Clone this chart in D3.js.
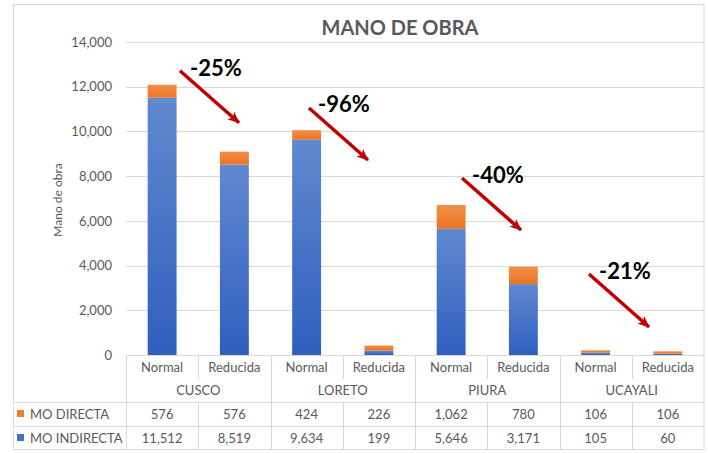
<!DOCTYPE html>
<html><head><meta charset="utf-8">
<script src="https://cdn.jsdelivr.net/npm/d3@7"></script>
<style>body{margin:0;background:#fff}text{font-family:Lato,"Open Sans",sans-serif}</style>
</head><body><svg id="c" width="708" height="453"></svg>
<script>
const regions = ["CUSCO","LORETO","PIURA","UCAYALI"];
const scenarios = ["Normal","Reducida"];
const moDirecta = [576,576,424,226,1062,780,106,106];
const moIndirecta = [11512,8519,9634,199,5646,3171,105,60];
const yTicks = [0,2000,4000,6000,8000,10000,12000,14000];
const changes = ["-25%","-96%","-40%","-21%"];
// annotation anchors in data space (slot index, value)
const arrowFrom = [[0.747,12716],[2.533,11048],[4.650,7917],[6.408,3623]];
const arrowTo   = [[1.564,10390],[3.349,8722],[5.467,5591],[7.239,1252]];
const labelAt   = [[0.886,12479],[2.657,10869],[4.789,7693],[6.547,3399]];

const svg = d3.select("#c");
const L=126, R=704, T=42, B=355;
const grey="#595959", line="#d9d9d9";
const cats = [];
regions.forEach(r=>scenarios.forEach(s=>cats.push(r+"|"+s)));
const x = d3.scaleBand().domain(cats).range([L,R]).paddingInner(0.6).paddingOuter(0.3);
const xs = d3.scaleLinear().domain([0,cats.length]).range([L,R]);
const y = d3.scaleLinear().domain([0,14000]).range([B,T]);

const defs = svg.append("defs");
function grad(id,c1,c2){const g=defs.append("linearGradient").attr("id",id).attr("x1",0).attr("y1",0).attr("x2",0).attr("y2",1);
 g.append("stop").attr("offset","0%").attr("stop-color",c1);g.append("stop").attr("offset","100%").attr("stop-color",c2);}
grad("gb","#6189d0","#2f5fbe");
grad("go","#f39049","#ea7424");
defs.append("marker").attr("id","ah").attr("viewBox","0 0 12 10").attr("refX",11).attr("refY",5)
 .attr("markerWidth",12).attr("markerHeight",10).attr("markerUnits","userSpaceOnUse").attr("orient","auto")
 .append("path").attr("d","M0,0 L12,5 L0,10 L3,5 Z").attr("fill","#c00000");

// outer border
svg.append("rect").attr("x",13.5).attr("y",4.5).attr("width",690.5).attr("height",445).attr("fill","#fff").attr("stroke",line);

// gridlines
svg.append("g").selectAll("line").data(yTicks.filter(d=>d>0)).join("line")
 .attr("x1",L).attr("x2",R).attr("y1",d=>Math.round(y(d))+0.5).attr("y2",d=>Math.round(y(d))+0.5).attr("stroke",line);
// y labels
const yAxis = svg.append("g").attr("transform",`translate(${L-14},0)`)
 .call(d3.axisLeft(y).tickValues(yTicks).tickFormat(d3.format(",")).tickSize(0).tickPadding(0));
yAxis.select(".domain").remove();
yAxis.selectAll("text").attr("font-size",13).attr("fill",grey).attr("font-family","Lato");

svg.append("text").attr("transform","translate(62,200) rotate(-90)").attr("text-anchor","middle")
 .attr("font-size",12).attr("fill",grey).text("Mano de obra");

// title
const title = svg.append("text").attr("x",400).attr("y",35).attr("text-anchor","middle").attr("font-size",20)
 .attr("font-weight","bold").attr("fill",grey).text("MANO DE OBRA");

// bars
const bars = svg.append("g");
bars.selectAll("rect.ind").data(moIndirecta).join("rect").attr("class","ind")
 .attr("x",(d,i)=>x(cats[i])).attr("width",x.bandwidth())
 .attr("y",d=>y(d)).attr("height",d=>y(0)-y(d)).attr("fill","url(#gb)");
bars.selectAll("rect.dir").data(moDirecta).join("rect").attr("class","dir")
 .attr("x",(d,i)=>x(cats[i])).attr("width",x.bandwidth())
 .attr("y",(d,i)=>y(d+moIndirecta[i])).attr("height",(d,i)=>y(moIndirecta[i])-y(d+moIndirecta[i])).attr("fill","url(#go)");

// table
const rowSub=367, rowGrp=390, rowD=414, rowI=438;
const tb = svg.append("g").attr("stroke",line);
[B,402,426,449].forEach(yy=>tb.append("line").attr("x1",yy===B?L:13.5).attr("x2",R).attr("y1",yy+0.5).attr("y2",yy+0.5));
tb.append("line").attr("x1",L+0.5).attr("x2",L+0.5).attr("y1",B).attr("y2",449);
cats.forEach((c,i)=>{
  const xx=Math.round(xs(i+1))+0.5;
  if(i===cats.length-1) return;
  if(i%2===1) tb.append("line").attr("x1",xx).attr("x2",xx).attr("y1",B).attr("y2",449);
  else { tb.append("line").attr("x1",xx).attr("x2",xx).attr("y1",B).attr("y2",379);
         tb.append("line").attr("x1",xx).attr("x2",xx).attr("y1",402).attr("y2",449); }
});
const tt = svg.append("g").attr("font-size",13).attr("fill",grey).attr("text-anchor","middle").attr("dominant-baseline","central");
cats.forEach((c,i)=>{
  const cx = xs(i+0.5);
  tt.append("text").attr("x",cx).attr("y",rowSub).text(c.split("|")[1]);
  tt.append("text").attr("x",cx).attr("y",rowD).text(d3.format(",")(moDirecta[i]));
  tt.append("text").attr("x",cx).attr("y",rowI).text(d3.format(",")(moIndirecta[i]));
});
regions.forEach((r,j)=>tt.append("text").attr("x",xs(2*j+1)).attr("y",rowGrp).text(r));
// legend
const lg = [["MO DIRECTA","#ed7d31",rowD],["MO INDIRECTA","#4472c4",rowI]];
lg.forEach(([t,c,yy])=>{
  svg.append("rect").attr("x",17).attr("y",yy-4).attr("width",7).attr("height",7).attr("fill",c);
  svg.append("text").attr("x",30).attr("y",yy).attr("dominant-baseline","central").attr("font-size",13).attr("fill",grey).text(t);
});

// arrows & labels
const ann = svg.append("g");
arrowFrom.forEach((f,i)=>{
  const t=arrowTo[i];
  ann.append("line").attr("x1",xs(f[0])).attr("y1",y(f[1])).attr("x2",xs(t[0])).attr("y2",y(t[1]))
   .attr("stroke","#c00000").attr("stroke-width",3.5).attr("marker-end","url(#ah)");
  ann.append("text").attr("x",xs(labelAt[i][0])).attr("y",y(labelAt[i][1])).attr("font-size",22)
   .attr("font-weight","bold").attr("fill","#000").text(changes[i]);
});
</script></body></html>
